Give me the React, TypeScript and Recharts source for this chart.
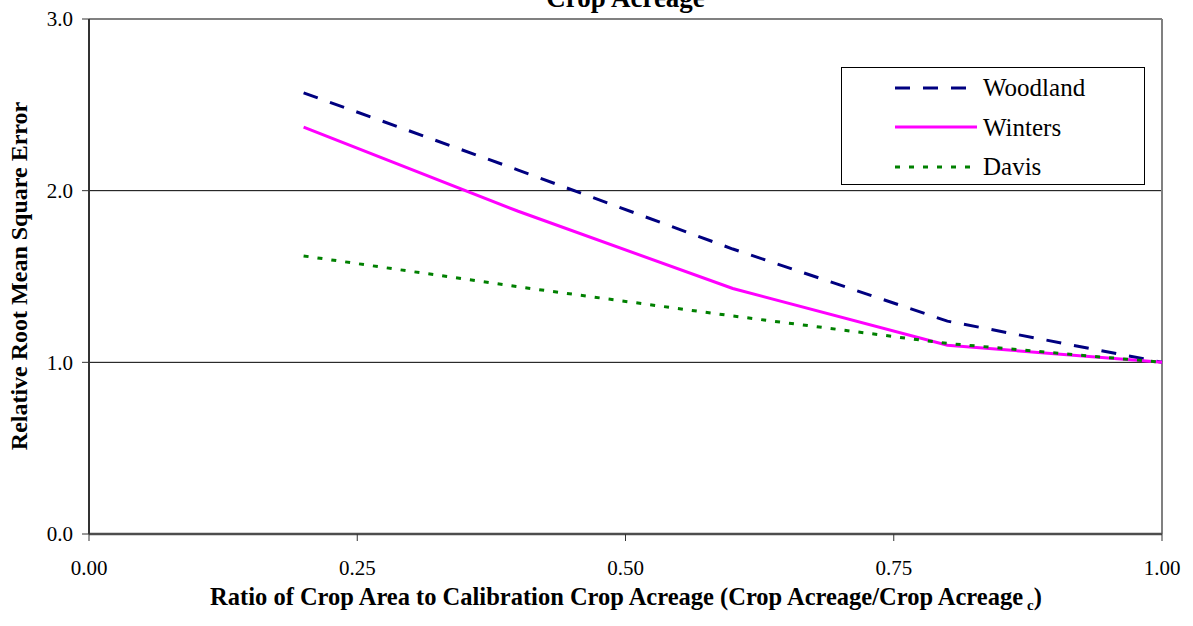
import { Label, Legend, Line, LineChart, ReferenceLine, XAxis, YAxis } from "recharts";

const FONT = "'Liberation Serif', 'Times New Roman', serif";

const ratio = [0.2, 0.4, 0.6, 0.8, 1.0];
const woodland = [2.57, 2.12, 1.66, 1.24, 1.0];
const winters = [2.37, 1.88, 1.43, 1.1, 1.0];
const davis = [1.62, 1.44, 1.27, 1.11, 1.0];
const xTicks = [0, 0.25, 0.5, 0.75, 1];
const yTicks = [0, 1, 2, 3];

const data = ratio.map((r, i) => ({
  ratio: r,
  Woodland: woodland[i],
  Winters: winters[i],
  Davis: davis[i],
}));

const SERIES = [
  { key: "Woodland", color: "#000080", dash: "15 13" },
  { key: "Winters", color: "#FF00FF", dash: undefined },
  { key: "Davis", color: "#008000", dash: "5 9" },
];

// legend keeps the series order (recharts 3 would sort it by name)
function LegendBox() {
  return (
    <div
      style={{
        width: 304,
        height: 118,
        boxSizing: "border-box",
        border: "1px solid #000",
        background: "#fff",
      }}
    >
      {SERIES.map((s) => (
        <div key={s.key} style={{ display: "flex", alignItems: "center", height: 39.5 }}>
          <svg width={84} height={6} style={{ marginLeft: 53 }}>
            <line x1={0} y1={3} x2={82} y2={3} stroke={s.color} strokeWidth={3} strokeDasharray={s.dash} />
          </svg>
          <span style={{ marginLeft: 4, fontFamily: FONT, fontSize: 25, lineHeight: 1, color: "#000" }}>
            {s.key}
          </span>
        </div>
      ))}
    </div>
  );
}

export default function App() {
  return (
    <div style={{ position: "absolute", left: 0, top: 0, width: 1193, height: 626, overflow: "hidden", background: "#fff" }}>
      <div
        style={{
          position: "absolute",
          left: 0,
          width: 1193,
          top: -15,
          textAlign: "center",
          fontFamily: FONT,
          fontWeight: "bold",
          fontSize: 27,
          lineHeight: "27px",
          paddingLeft: 58,
          boxSizing: "border-box",
        }}
      >
        Crop Acreage
      </div>
      <LineChart width={1193} height={626} data={data} margin={{ top: 19, right: 31, left: 0, bottom: 0 }}>
        <XAxis
          dataKey="ratio"
          type="number"
          domain={[0, 1]}
          ticks={xTicks}
          tickFormatter={(v: number) => v.toFixed(2)}
          tick={{ fontSize: 21, fill: "#000", fontFamily: FONT }}
          tickSize={7}
          tickMargin={19}
          tickLine={{ stroke: "#333" }}
          axisLine={{ stroke: "#4d4d4d", strokeWidth: 2.5 }}
          height={92}
        >
          <Label
            content={() => (
              <text x={626} y={605} textAnchor="middle" fontFamily={FONT} fontWeight="bold" fontSize={24.5} fill="#000">
                Ratio of Crop Area to Calibration Crop Acreage (Crop Acreage/Crop Acreage
                <tspan fontSize={15} dx={4} dy={5}>c</tspan>
                <tspan dy={-5}>)</tspan>
              </text>
            )}
          />
        </XAxis>
        <YAxis
          type="number"
          domain={[0, 3]}
          ticks={yTicks}
          tickFormatter={(v: number) => v.toFixed(1)}
          tick={{ fontSize: 21, fill: "#000", fontFamily: FONT }}
          tickSize={7}
          tickMargin={9}
          tickLine={{ stroke: "#333" }}
          axisLine={{ stroke: "#333", strokeWidth: 2 }}
          width={89}
        >
          <Label
            content={() => (
              <text
                x={0}
                y={0}
                transform="translate(27,276) rotate(-90)"
                textAnchor="middle"
                fontFamily={FONT}
                fontWeight="bold"
                fontSize={24}
                fill="#000"
              >
                Relative Root Mean Square Error
              </text>
            )}
          />
        </YAxis>
        <ReferenceLine y={1} stroke="#000" strokeWidth={1} />
        <ReferenceLine y={2} stroke="#000" strokeWidth={1} />
        <ReferenceLine y={3} stroke="#808080" strokeWidth={2} />
        <ReferenceLine x={1} stroke="#808080" strokeWidth={2} />
        <Legend
          layout="vertical"
          align="center"
          verticalAlign="middle"
          wrapperStyle={{ left: 841, top: 67, width: 304, height: 118 }}
          content={() => <LegendBox />}
        />
        {SERIES.map((s) => (
          <Line
            key={s.key}
            type="linear"
            dataKey={s.key}
            stroke={s.color}
            strokeWidth={3}
            strokeDasharray={s.dash}
            dot={false}
            activeDot={false}
            isAnimationActive={false}
          />
        ))}
      </LineChart>
    </div>
  );
}
